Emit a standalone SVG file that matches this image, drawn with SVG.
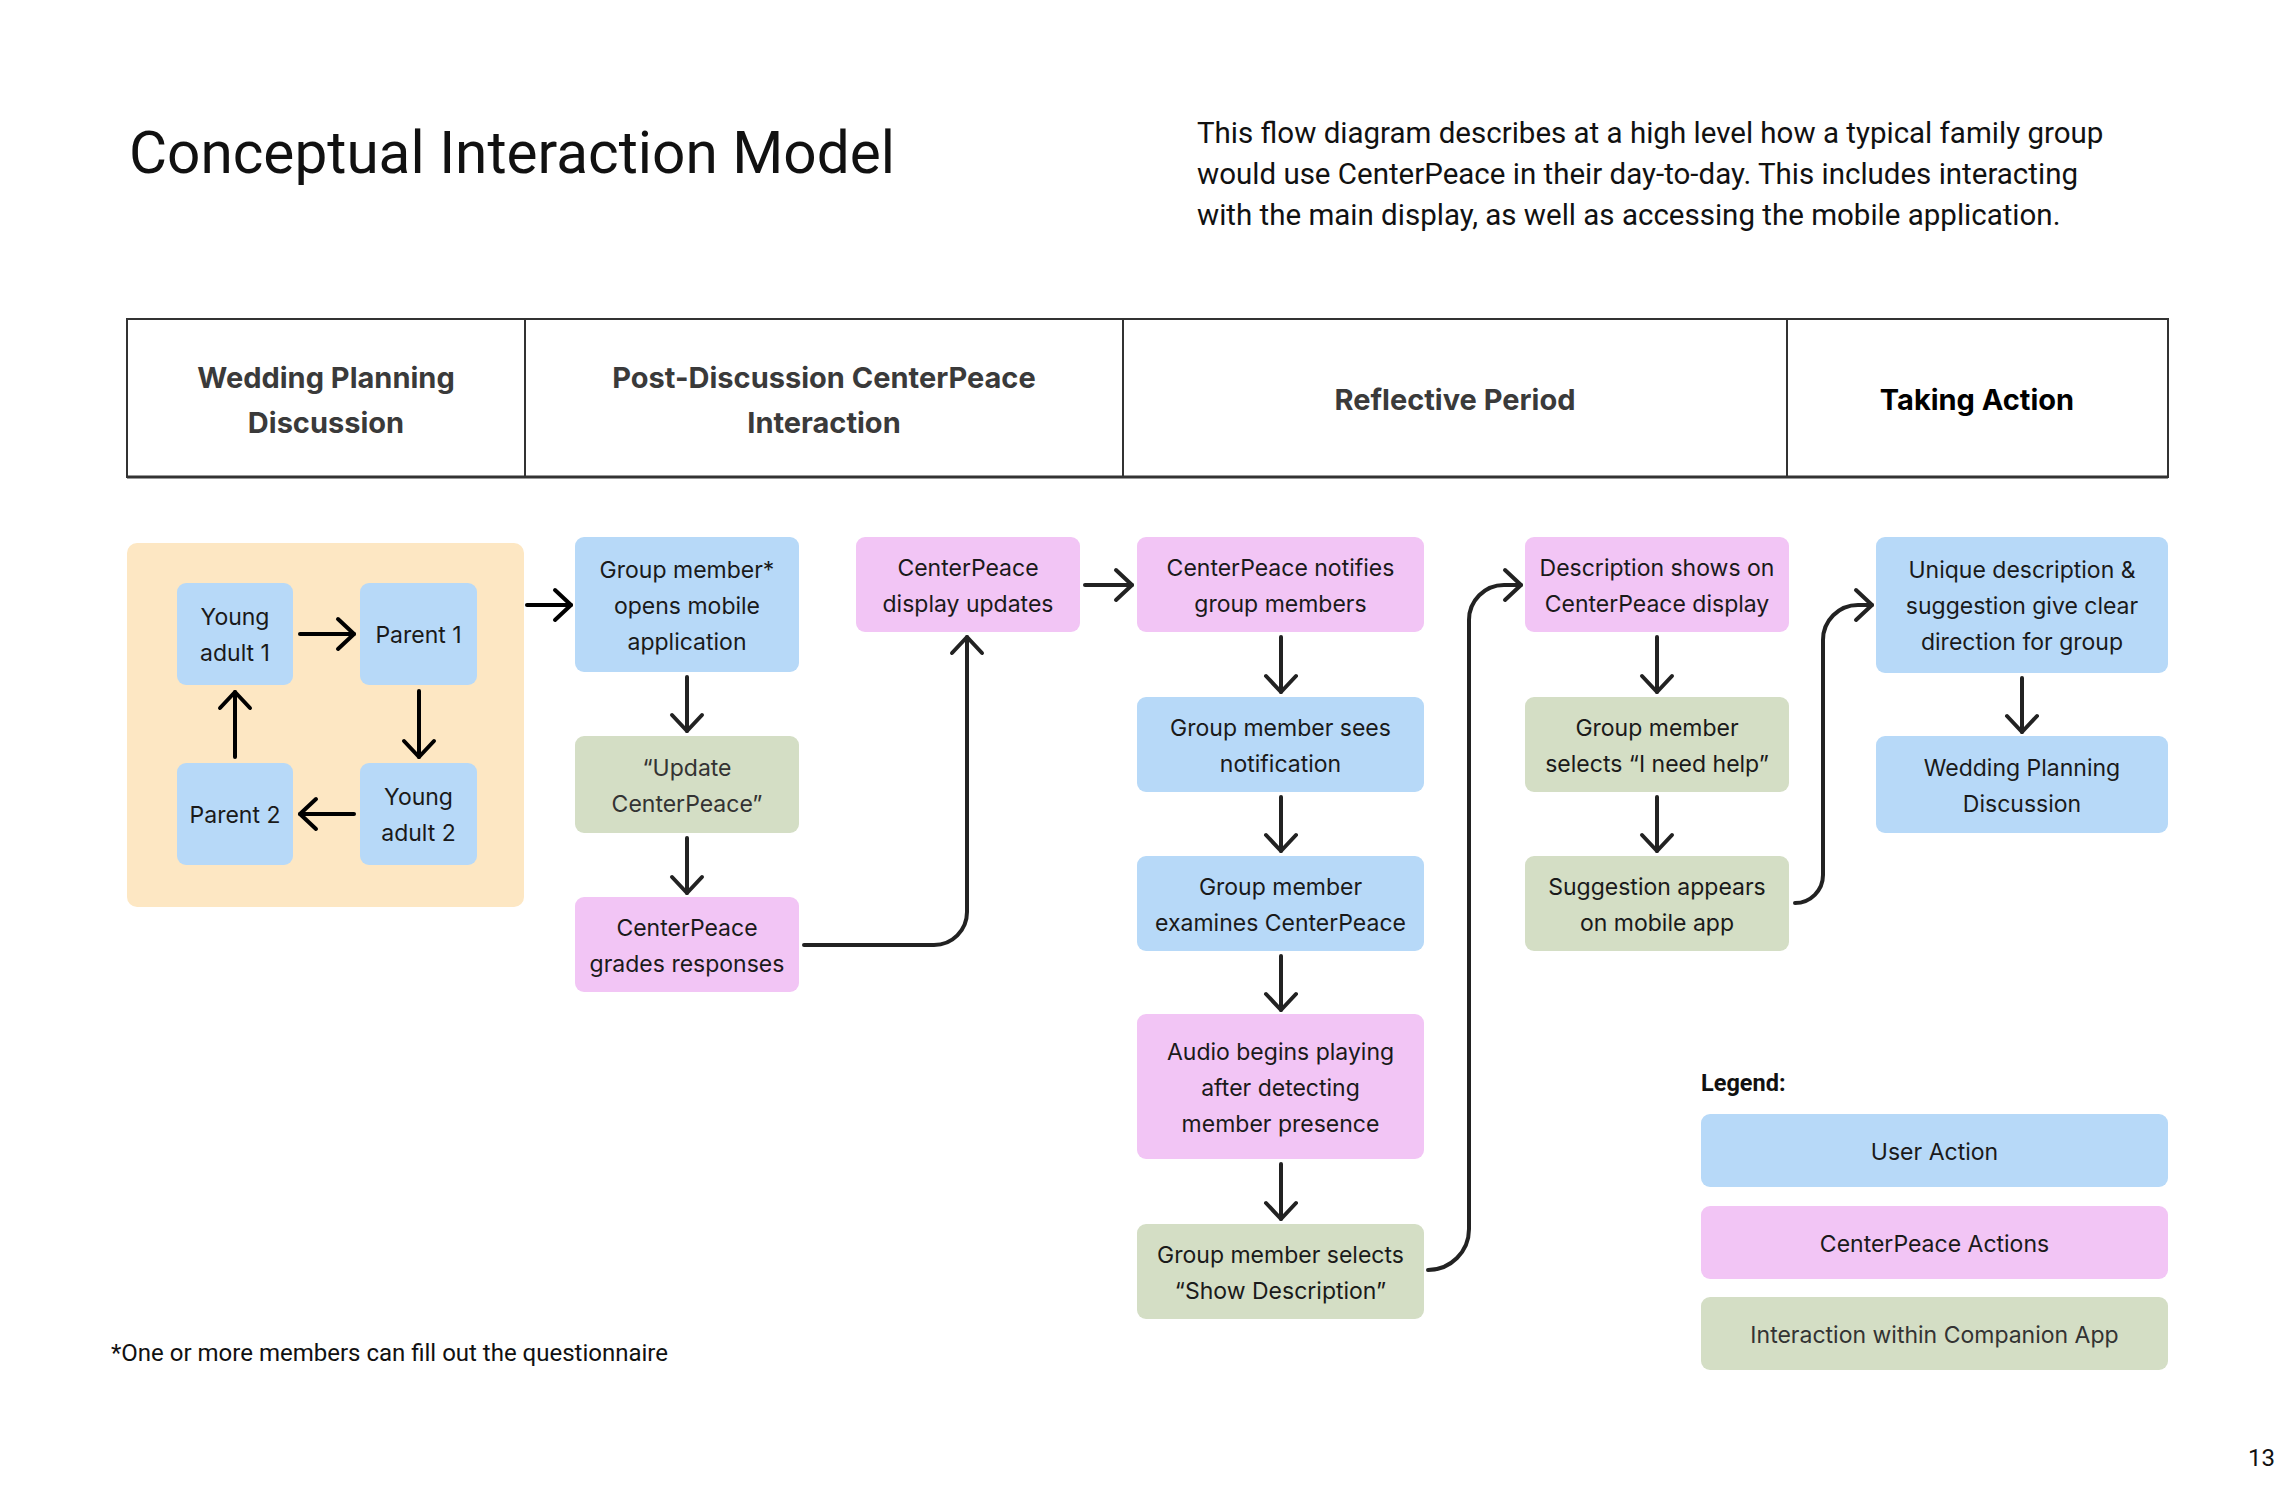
<svg xmlns="http://www.w3.org/2000/svg" width="2295" height="1485" viewBox="0 0 2295 1485">
<style>
.bg{fill:#ffffff}
.plex{font-family:Roboto,"Liberation Sans",sans-serif;fill:#111}
.hdr{font-family:Inter,"Liberation Sans",sans-serif;font-weight:700;font-size:29px;fill:#3a3a3a;text-anchor:middle;dominant-baseline:central}
.nt{font-family:Inter,"Liberation Sans",sans-serif;font-size:23px;fill:#1a1a1a;text-anchor:middle;dominant-baseline:central}
.ntg{fill:#333}
.blue{fill:#B7D9F8}
.pink{fill:#F2C5F5}
.green{fill:#D4DEC5}
.peach{fill:#FDE7C3}
.frame{fill:none;stroke:#333;stroke-width:2}
.conn{fill:none;stroke:#222;stroke-width:4;stroke-linecap:round;stroke-linejoin:round;marker-end:url(#ah)}
.connb{fill:none;stroke:#000;stroke-width:4;stroke-linecap:round;stroke-linejoin:round;marker-end:url(#ahb)}
</style>
<defs>
<marker id="ah" viewBox="-20 -20 40 40" refX="0" refY="0" markerWidth="40" markerHeight="40" markerUnits="userSpaceOnUse" orient="auto">
<path d="M-16 -15 L0 0 L-16 15" fill="none" stroke="#222" stroke-width="4" stroke-linecap="round" stroke-linejoin="round"/>
</marker>
<marker id="ahb" viewBox="-20 -20 40 40" refX="0" refY="0" markerWidth="40" markerHeight="40" markerUnits="userSpaceOnUse" orient="auto">
<path d="M-16 -15 L0 0 L-16 15" fill="none" stroke="#000" stroke-width="4" stroke-linecap="round" stroke-linejoin="round"/>
</marker>
</defs>
<rect class="bg" x="0" y="0" width="2295" height="1485"/>

<g id="title">
<text class="plex" x="129" y="173" font-size="58.5">Conceptual Interaction Model</text>
</g>
<g id="description" class="plex" font-size="29.5">
<text x="1197" y="143">This flow diagram describes at a high level how a typical family group</text>
<text x="1197" y="184">would use CenterPeace in their day-to-day. This includes interacting</text>
<text x="1197" y="225">with the main display, as well as accessing the mobile application.</text>
</g>

<g id="phase-header">
<rect class="frame" x="127" y="319" width="2041" height="158"/>
<line x1="127" y1="477" x2="2168" y2="477" stroke="#333" stroke-width="3"/>
<line class="frame" x1="525" y1="319" x2="525" y2="477"/>
<line class="frame" x1="1123" y1="319" x2="1123" y2="477"/>
<line class="frame" x1="1787" y1="319" x2="1787" y2="477"/>
<text class="hdr" x="326" y="377">Wedding Planning</text>
<text class="hdr" x="326" y="422">Discussion</text>
<text class="hdr" x="824" y="377">Post-Discussion CenterPeace</text>
<text class="hdr" x="824" y="422">Interaction</text>
<text class="hdr" x="1455" y="399">Reflective Period</text>
<text class="hdr" x="1977" y="399" style="fill:#000">Taking Action</text>
</g>

<g id="discussion-group">
<rect class="peach" x="127" y="543" width="397" height="364" rx="10"/>
</g>
<g id="young-adult-1">
<rect class="blue" x="177" y="583" width="116" height="102" rx="9"/>
<text class="nt" x="235" y="617">Young</text>
<text class="nt" x="235" y="653">adult 1</text>
</g>
<g id="parent-1">
<rect class="blue" x="360" y="583" width="117" height="102" rx="9"/>
<text class="nt" x="418.5" y="635">Parent 1</text>
</g>
<g id="parent-2">
<rect class="blue" x="177" y="763" width="116" height="102" rx="9"/>
<text class="nt" x="235" y="815">Parent 2</text>
</g>
<g id="young-adult-2">
<rect class="blue" x="360" y="763" width="117" height="102" rx="9"/>
<text class="nt" x="418.5" y="797">Young</text>
<text class="nt" x="418.5" y="833">adult 2</text>
</g>

<g id="opens-app">
<rect class="blue" x="575" y="537" width="224" height="135" rx="9"/>
<text class="nt" x="687" y="569.5">Group member*</text>
<text class="nt" x="687" y="605.5">opens mobile</text>
<text class="nt" x="687" y="641.5">application</text>
</g>
<g id="update-centerpeace">
<rect class="green" x="575" y="736" width="224" height="97" rx="9"/>
<text class="nt ntg" x="687" y="767.5">“Update</text>
<text class="nt ntg" x="687" y="803.5">CenterPeace”</text>
</g>
<g id="grades-responses">
<rect class="pink" x="575" y="897" width="224" height="95" rx="9"/>
<text class="nt" x="687" y="927.5">CenterPeace</text>
<text class="nt" x="687" y="963.5">grades responses</text>
</g>
<g id="display-updates">
<rect class="pink" x="856" y="537" width="224" height="95" rx="9"/>
<text class="nt" x="968" y="567.5">CenterPeace</text>
<text class="nt" x="968" y="603.5">display updates</text>
</g>

<g id="notifies">
<rect class="pink" x="1137" y="537" width="287" height="95" rx="9"/>
<text class="nt" x="1280.5" y="567.5">CenterPeace notifies</text>
<text class="nt" x="1280.5" y="603.5">group members</text>
</g>
<g id="sees-notification">
<rect class="blue" x="1137" y="697" width="287" height="95" rx="9"/>
<text class="nt" x="1280.5" y="727.5">Group member sees</text>
<text class="nt" x="1280.5" y="763.5">notification</text>
</g>
<g id="examines">
<rect class="blue" x="1137" y="856" width="287" height="95" rx="9"/>
<text class="nt" x="1280.5" y="886.5">Group member</text>
<text class="nt" x="1280.5" y="922.5">examines CenterPeace</text>
</g>
<g id="audio">
<rect class="pink" x="1137" y="1014" width="287" height="145" rx="9"/>
<text class="nt" x="1280.5" y="1051.5">Audio begins playing</text>
<text class="nt" x="1280.5" y="1087.5">after detecting</text>
<text class="nt" x="1280.5" y="1123.5">member presence</text>
</g>
<g id="show-description">
<rect class="green" x="1137" y="1224" width="287" height="95" rx="9"/>
<text class="nt" x="1280.5" y="1254.5">Group member selects</text>
<text class="nt" x="1280.5" y="1290.5">“Show Description”</text>
</g>

<g id="description-shows">
<rect class="pink" x="1525" y="537" width="264" height="95" rx="9"/>
<text class="nt" x="1657" y="567.5">Description shows on</text>
<text class="nt" x="1657" y="603.5">CenterPeace display</text>
</g>
<g id="need-help">
<rect class="green" x="1525" y="697" width="264" height="95" rx="9"/>
<text class="nt" x="1657" y="727.5">Group member</text>
<text class="nt" x="1657" y="763.5">selects “I need help”</text>
</g>
<g id="suggestion">
<rect class="green" x="1525" y="856" width="264" height="95" rx="9"/>
<text class="nt" x="1657" y="886.5">Suggestion appears</text>
<text class="nt" x="1657" y="922.5">on mobile app</text>
</g>

<g id="unique-description">
<rect class="blue" x="1876" y="537" width="292" height="136" rx="9"/>
<text class="nt" x="2022" y="570">Unique description &amp;</text>
<text class="nt" x="2022" y="606">suggestion give clear</text>
<text class="nt" x="2022" y="642">direction for group</text>
</g>
<g id="wedding-planning">
<rect class="blue" x="1876" y="736" width="292" height="97" rx="9"/>
<text class="nt" x="2022" y="767.5">Wedding Planning</text>
<text class="nt" x="2022" y="803.5">Discussion</text>
</g>

<g id="connectors">
<path class="connb" d="M300 634 H354"/>
<path class="connb" d="M419 691 V757"/>
<path class="connb" d="M354 814 H300"/>
<path class="connb" d="M235 757 V692"/>
<path class="connb" d="M527 605 H571"/>
<path class="conn" d="M687 677 V731"/>
<path class="conn" d="M687 838 V893"/>
<path class="conn" d="M804 945 H934 A33 33 0 0 0 967 912 V637"/>
<path class="conn" d="M1085 585 H1132"/>
<path class="conn" d="M1281 637 V692"/>
<path class="conn" d="M1281 797 V851"/>
<path class="conn" d="M1281 956 V1010"/>
<path class="conn" d="M1281 1164 V1219"/>
<path class="conn" d="M1428 1270 A41 41 0 0 0 1469 1229 V620 A35 35 0 0 1 1504 585 H1521"/>
<path class="conn" d="M1657 637 V692"/>
<path class="conn" d="M1657 797 V851"/>
<path class="conn" d="M1795 903 A28 28 0 0 0 1823 875 V640 A35 35 0 0 1 1858 605 H1872"/>
<path class="conn" d="M2022 678 V732"/>
</g>

<g id="legend">
<text class="plex" x="1701" y="1091" font-size="23.5" font-weight="700">Legend:</text>
<g id="legend-user-action">
<rect class="blue" x="1701" y="1114" width="467" height="73" rx="9"/>
<text class="nt" x="1934.5" y="1151.5">User Action</text>
</g>
<g id="legend-centerpeace-actions">
<rect class="pink" x="1701" y="1206" width="467" height="73" rx="9"/>
<text class="nt" x="1934.5" y="1243.5">CenterPeace Actions</text>
</g>
<g id="legend-companion-app">
<rect class="green" x="1701" y="1297" width="467" height="73" rx="9"/>
<text class="nt ntg" x="1934.5" y="1334.5">Interaction within Companion App</text>
</g>
</g>

<g id="footnote">
<text class="plex" x="111" y="1361" font-size="24">*One or more members can fill out the questionnaire</text>
</g>
<g id="page-number">
<text class="plex" x="2248" y="1466" font-size="24">13</text>
</g>
</svg>
